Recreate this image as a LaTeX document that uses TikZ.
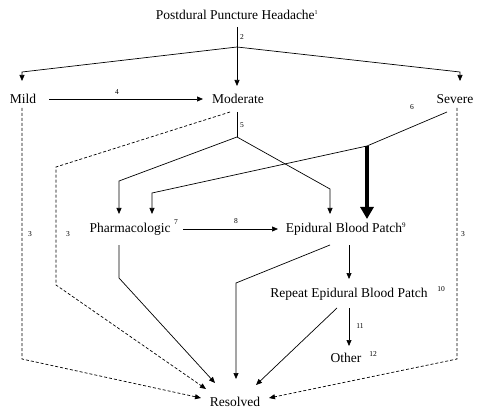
\documentclass[tikz,border=0pt]{standalone}
\usepackage{fontspec}
\setmainfont{Liberation Serif}
\usetikzlibrary{arrows.meta}
\begin{document}
\begin{tikzpicture}[x=1pt,y=-1pt,
  txt/.style={inner sep=0pt,font=\fontsize{13.5}{16}\selectfont},
  lab/.style={inner sep=0pt,font=\fontsize{7.5}{9}\selectfont},
  ln/.style={draw=black,line width=0.7pt},
  arr/.style={ln,-{Triangle[length=6pt,width=5pt]}},
  dsh/.style={draw=black,line width=0.7pt,dash pattern=on 3pt off 2pt},
  darr/.style={dsh,-{Triangle[length=6pt,width=5pt]}},
  thick arr/.style={draw=black,line width=3.2pt,-{Triangle[length=12pt,width=13pt]}}]
\useasboundingbox (0,0) rectangle (477,409);
% nodes
\node[txt] (title) at (237,15) {Postdural Puncture Headache\textsuperscript{\fontsize{6}{7}\selectfont 1}};
\node[txt] (mild) at (23,99) {Mild};
\node[txt] (mod) at (238,99) {Moderate};
\node[txt] (sev) at (455,99) {Severe};
\node[txt] (pharm) at (130,229) {Pharmacologic};
\node[lab] at (176,222) {7};
\node[txt] (ebp) at (346,229) {Epidural Blood Patch\textsuperscript{\fontsize{7}{8}\selectfont 9}};
\node[txt] (rep) at (349,294) {Repeat Epidural Blood Patch};
\node[lab] at (441,289) {10};
\node[txt] (oth) at (346,358) {Other};
\node[lab] at (373,354) {12};
\node[txt] (res) at (235,402) {Resolved};
% coordinates
\coordinate (t0) at (237,27);
\coordinate (sp) at (237,47);
\coordinate (lc) at (22,72);
\coordinate (rc) at (460,72);
\coordinate (lt) at (22,81);
\coordinate (rt) at (460,81);
\coordinate (mt) at (237,86);
% top split
\draw[ln] (t0) -- (sp);
\draw[arr] (sp) -- (mt);
\draw[arr] (sp) -- (lc) -- (lt);
\draw[arr] (sp) -- (rc) -- (rt);
\node[lab] at (242,37) {2};
% mild -> moderate
\coordinate (a4s) at (49,99);
\coordinate (a4e) at (203,99);
\draw[arr] (a4s) -- (a4e);
\node[lab] at (117,92) {4};
% moderate split
\coordinate (m0) at (237,112);
\coordinate (m1) at (237,137);
\coordinate (ml) at (119,181);
\coordinate (mlt) at (119,214);
\coordinate (mr) at (330,189);
\coordinate (mrt) at (330,214);
\draw[ln] (m0) -- (m1);
\node[lab] at (242,125) {5};
\draw[arr] (m1) -- (ml) -- (mlt);
\draw[arr] (m1) -- (mr) -- (mrt);
% severe
\coordinate (s0) at (447,112);
\coordinate (s1) at (367,146);
\coordinate (s2) at (152,193);
\coordinate (s2t) at (152,214);
\coordinate (s3) at (367,219);
\draw[ln] (s0) -- (s1);
\node[lab] at (412,107) {6};
\draw[arr] (s1) -- (s2) -- (s2t);
\draw[thick arr] (s1) -- (s3);
% pharm -> ebp
\coordinate (p8s) at (183,229);
\coordinate (p8e) at (278,229);
\draw[arr] (p8s) -- (p8e);
\node[lab] at (236,221) {8};
% pharm -> resolved
\coordinate (pr0) at (119,245);
\coordinate (pr1) at (119,278);
\coordinate (pr2) at (215,383);
\draw[arr] (pr0) -- (pr1) -- (pr2);
% ebp -> resolved
\coordinate (er0) at (330,245);
\coordinate (er1) at (236,283);
\coordinate (er2) at (236,379);
\draw[arr] (er0) -- (er1) -- (er2);
% ebp -> repeat
\coordinate (eb0) at (349,245);
\coordinate (eb1) at (349,279);
\draw[arr] (eb0) -- (eb1);
% repeat -> resolved
\coordinate (rr0) at (337,308);
\coordinate (rr1) at (256,385);
\draw[arr] (rr0) -- (rr1);
% repeat -> other
\coordinate (ro0) at (349,308);
\coordinate (ro1) at (349,346);
\draw[arr] (ro0) -- (ro1);
\node[lab] at (360,326) {11};
% dashed
\coordinate (dm0) at (230,112);
\coordinate (dm1) at (56,167);
\coordinate (dm2) at (56,285);
\coordinate (dm3) at (206,389);
\draw[darr] (dm0) -- (dm1) -- (dm2) -- (dm3);
\node[lab] at (68,234) {3};
\coordinate (dl0) at (22,108);
\coordinate (dl1) at (22,359);
\coordinate (dl2) at (201,398);
\draw[darr] (dl0) -- (dl1) -- (dl2);
\node[lab] at (30,234) {3};
\coordinate (ds0) at (457,108);
\coordinate (ds1) at (457,359);
\coordinate (ds2) at (269,398);
\draw[darr] (ds0) -- (ds1) -- (ds2);
\node[lab] at (463,234) {3};
\end{tikzpicture}
\end{document}
